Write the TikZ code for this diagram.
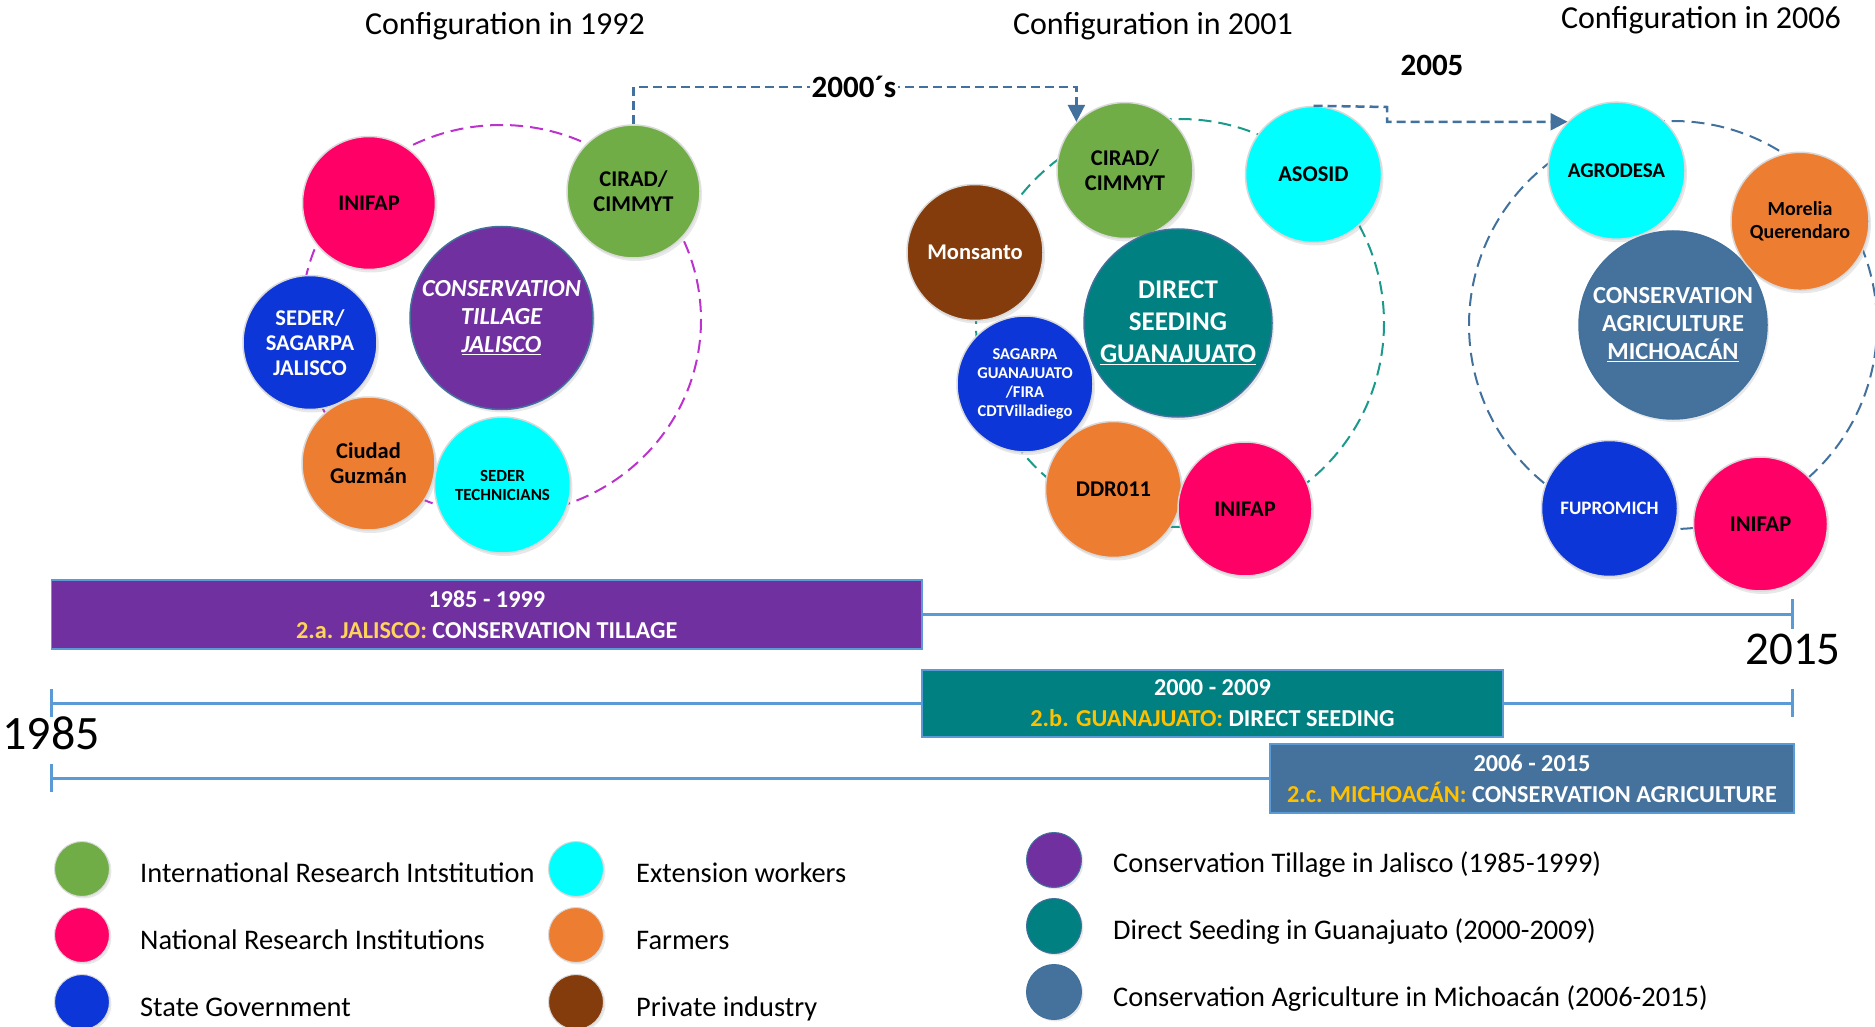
\documentclass[tikz,border=0pt]{standalone}
\usepackage{fontspec}
\setmainfont{Carlito}
\usetikzlibrary{shadows,arrows.meta,calc}
\definecolor{cgreen}{HTML}{70AD47}
\definecolor{cmag}{HTML}{FF0066}
\definecolor{cblue}{HTML}{0D36D8}
\definecolor{ccyan}{HTML}{00FFFF}
\definecolor{corange}{HTML}{ED7D31}
\definecolor{cbrown}{HTML}{843C0C}
\definecolor{cpurple}{HTML}{7030A0}
\definecolor{cteal}{HTML}{008080}
\definecolor{csteel}{HTML}{44729D}
\definecolor{cedge}{HTML}{41719C}
\definecolor{cline}{HTML}{5B9BD5}
\definecolor{ringpurple}{HTML}{BB33CC}
\definecolor{ringteal}{HTML}{1A9A8A}
\definecolor{ylwA}{HTML}{FFD45A}
\definecolor{ylwB}{HTML}{FFC000}
\tikzset{
  actor/.style={circle, inner sep=0pt, draw=black!15, line width=1.5pt, align=center,
    drop shadow={shadow xshift=2pt, shadow yshift=-3pt, opacity=0.18},
    font=\bfseries\fontsize{22.5}{25}\selectfont},
  core/.style={actor, draw=cedge},
  ring/.style={line width=2pt, dash pattern=on 13pt off 7pt},
  flow/.style={draw=cedge, line width=2.5pt, dash pattern=on 9pt off 5pt, -{Triangle[length=17pt,width=17pt]}},
  tl/.style={draw=cline, line width=3pt},
  bar/.style={rectangle, draw=cline, line width=1.5pt, text=white, align=center, inner sep=0pt,
    font=\bfseries\fontsize{24.3}{31}\selectfont},
  title/.style={font=\fontsize{32}{36}\selectfont},
  leg/.style={circle, inner sep=0pt, minimum size=55pt, draw=black!15, line width=1pt,
    drop shadow={shadow xshift=2pt, shadow yshift=-2pt, opacity=0.18}},
  legtext/.style={anchor=base west, font=\fontsize{28.4}{31}\selectfont, inner sep=0pt},
}
\begin{document}
\begin{tikzpicture}[x=1pt,y=-1pt]
\useasboundingbox (0,0) rectangle (1875,1027);

% titles
\node[title] (t92) at (505,26) {Configuration in 1992};
\node[title] (t01) at (1153,26) {Configuration in 2001};
\node[title] (t06) at (1701,20) {Configuration in 2006};

% ---------- 1992 ----------
\draw[ring, draw=ringpurple] (501,320) ellipse [x radius=200, y radius=195];
\node[actor, fill=cmag, minimum size=133pt] (a92inifap) at (369,203) {INIFAP};
\node[actor, fill=cgreen, minimum size=133pt] (a92cirad) at (633.5,191.5) {CIRAD/\\CIMMYT};
\node[core, fill=cpurple, text=white, minimum size=183pt,
  font=\bfseries\itshape\fontsize{24.5}{28}\selectfont] (a92core) at (501.5,318) {CONSERVATION\\TILLAGE\\\underline{JALISCO}};
\node[actor, fill=cblue, text=white, minimum size=134pt] (a92seder) at (310,342.5) {SEDER/\\SAGARPA\\JALISCO};
\node[actor, fill=corange, minimum size=133pt] (a92guzman) at (368.5,463.5) {Ciudad\\Guzmán};
\node[actor, fill=ccyan, minimum size=136pt, font=\bfseries\fontsize{17}{19}\selectfont] (a92tech) at (502.5,485) {SEDER\\TECHNICIANS};

% ---------- 2001 ----------
\draw[ring, draw=ringteal] (1180,323) circle [radius=204];
\node[actor, fill=cgreen, minimum size=136pt] (a01cirad) at (1125,170.5) {CIRAD/\\CIMMYT};
\node[actor, fill=ccyan, minimum size=136pt] (a01asosid) at (1313.5,174.5) {ASOSID};
\node[actor, fill=cbrown, text=white, minimum size=136pt] (a01mons) at (975,252.5) {Monsanto};
\node[core, fill=cteal, text=white, minimum size=188pt,
  font=\bfseries\fontsize{27}{32}\selectfont] (a01core) at (1178,323) {DIRECT\\SEEDING\\\underline{GUANAJUATO}};
\node[actor, fill=cblue, text=white, minimum size=136pt,
  font=\bfseries\fontsize{16.5}{19}\selectfont] (a01sag) at (1025,384) {SAGARPA\\GUANAJUATO\\/FIRA\\CDTVilladiego};
\node[actor, fill=corange, minimum size=136pt] (a01ddr) at (1113.5,489.5) {DDR011};
\node[actor, fill=cmag, minimum size=134pt] (a01inifap) at (1245,509) {INIFAP};

% ---------- 2006 ----------
\draw[ring, draw=cedge] (1673,325) circle [radius=204];
\node[actor, fill=ccyan, minimum size=137pt, font=\bfseries\fontsize{21}{23}\selectfont] (a06agro) at (1616.5,170.7) {AGRODESA};
\node[core, fill=csteel, text=white, minimum size=188pt,
  font=\bfseries\fontsize{24.5}{28}\selectfont] (a06core) at (1673,325) {CONSERVATION\\AGRICULTURE\\\underline{MICHOACÁN}};
\node[actor, fill=corange, minimum size=138pt, font=\bfseries\fontsize{20}{23}\selectfont] (a06mor) at (1800,221.3) {Morelia\\Querendaro};
\node[actor, fill=cblue, text=white, minimum size=136pt, font=\bfseries\fontsize{19}{21}\selectfont] (a06fup) at (1609.5,508.5) {FUPROMICH};
\node[actor, fill=cmag, minimum size=134pt] (a06inifap) at (1760.5,524) {INIFAP};

% ---------- transition arrows ----------
\draw[flow] (a92cirad.north) -- ++(0,-37) -| (a01cirad.135);
\node[fill=white, inner sep=2pt, font=\bfseries\fontsize{31}{34}\selectfont] (l2000) at (854,87) {2000´s};
\coordinate (b1) at (1387,107);
\coordinate (b2) at (1387,122);
\draw[flow] (a01asosid.north) -- (b1) -- (b2) -- (a06agro.135);
\node[font=\bfseries\fontsize{31}{34}\selectfont] (l2005) at (1432,65) {2005};

% ---------- timeline ----------
\coordinate (s1) at (51.5,614);
\coordinate (e1) at (1792,614);
\coordinate (s2) at (51.5,703);
\coordinate (e2) at (1792,703);
\coordinate (s3) at (51.5,778);
\coordinate (e3) at (1270,778);
\draw[tl] (s1) -- (e1);
\draw[tl] ($(e1)+(0,-15)$) -- ($(e1)+(0,15)$);
\draw[tl] (s2) -- (e2);
\draw[tl] ($(s2)+(0,-14)$) -- ($(s2)+(0,14)$);
\draw[tl] ($(e2)+(0,-14)$) -- ($(e2)+(0,14)$);
\draw[tl] (s3) -- (e3);
\draw[tl] ($(s3)+(0,-14)$) -- ($(s3)+(0,14)$);

\node[bar, fill=cpurple, minimum width=870.5pt, minimum height=69pt] (barA) at (486.75,614.5)
  {1985 - 1999\\{\color{ylwA}2.a. JALISCO:} CONSERVATION TILLAGE};
\node[bar, fill=cteal, minimum width=581pt, minimum height=67pt] (barB) at (1212.5,703.5)
  {2000 - 2009\\{\color{ylwB}2.b. GUANAJUATO:} DIRECT SEEDING};
\node[bar, fill=csteel, minimum width=524pt, minimum height=69pt] (barC) at (1532,778.5)
  {2006 - 2015\\{\color{ylwB}2.c. MICHOACÁN:} CONSERVATION AGRICULTURE};

\node[font=\fontsize{48}{52}\selectfont] (y1985) at (51,733) {1985};
\node[font=\fontsize{47}{50}\selectfont] (y2015) at (1793,649) {2015};

% ---------- legend ----------
\node[leg, fill=cgreen] (g1) at (82,869) {};
\node[leg, fill=cmag] (g2) at (82,935) {};
\node[leg, fill=cblue] (g3) at (82,1002) {};
\node[leg, fill=ccyan] (g4) at (576,869) {};
\node[leg, fill=corange] (g5) at (576,935) {};
\node[leg, fill=cbrown] (g6) at (576,1002) {};
\node[leg, fill=cpurple, draw=cedge] (g7) at (1054,860) {};
\node[leg, fill=cteal, draw=cedge] (g8) at (1054,926) {};
\node[leg, fill=csteel, draw=cedge] (g9) at (1054,992) {};

\node[legtext] (x1) at (140,882) {International Research Intstitution};
\node[legtext] (x2) at (140,949) {National Research Institutions};
\node[legtext] (x3) at (140,1016) {State Government};
\node[legtext] (x4) at (636,882) {Extension workers};
\node[legtext] (x5) at (636,949) {Farmers};
\node[legtext] (x6) at (636,1016) {Private industry};
\node[legtext] (x7) at (1113,872) {Conservation Tillage in Jalisco (1985-1999)};
\node[legtext] (x8) at (1113,939) {Direct Seeding in Guanajuato (2000-2009)};
\node[legtext] (x9) at (1113,1006) {Conservation Agriculture in Michoacán (2006-2015)};
\end{tikzpicture}
\end{document}
